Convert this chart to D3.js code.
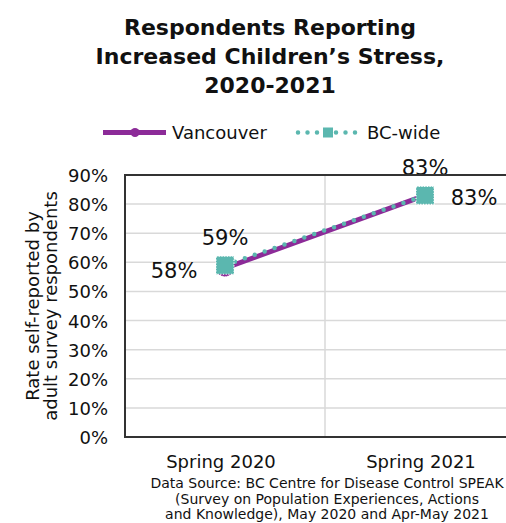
<!DOCTYPE html>
<html>
<head>
<meta charset="utf-8">
<script src="https://cdn.jsdelivr.net/npm/d3@7"></script>
<style>
  body { margin: 0; background: #fff; }
  svg { display: block; font-family: "DejaVu Sans", sans-serif; }
</style>
</head>
<body>
<svg id="chart" width="506" height="523"></svg>
<script>
// Chart data
const categories = ["Spring 2020", "Spring 2021"];
const vancouver = [58, 83];
const bcWide = [59, 83];
const yTicks = [0, 10, 20, 30, 40, 50, 60, 70, 80, 90];
const titleLines = ["Respondents Reporting", "Increased Children\u2019s Stress,", "2020-2021"];
const yTitleLines = ["Rate self-reported by", "adult survey respondents"];
const sourceLines = [
  "Data Source: BC Centre for Disease Control SPEAK",
  "(Survey on Population Experiences, Actions",
  "and Knowledge), May 2020 and Apr-May 2021"
];

const COLORS = {
  vancouver: "#8c2b98",
  bc: "#5bb7af",
  grid: "#d9d9d9",
  axis: "#333",
  text: "#111",
};

const svg = d3.select("#chart");

const plot = { left: 125, right: 525, top: 175, bottom: 437 };

const x = d3.scaleBand()
  .domain(categories)
  .range([plot.left, plot.right]);

const y = d3.scaleLinear()
  .domain([0, 90])
  .range([plot.bottom, plot.top]);

const cx = d => x(d) + x.bandwidth() / 2;

// Title
svg.append("text")
  .attr("text-anchor", "middle")
  .attr("font-weight", "bold")
  .attr("font-size", 22)
  .attr("fill", COLORS.text)
  .selectAll("tspan")
  .data(titleLines)
  .enter()
  .append("tspan")
  .attr("x", 270)
  .attr("y", (d, i) => 35 + i * 29)
  .text(d => d);

// Legend
const legend = svg.append("g").attr("font-size", 18).attr("fill", COLORS.text);
legend.append("line")
  .attr("x1", 103).attr("x2", 166).attr("y1", 132.5).attr("y2", 132.5)
  .attr("stroke", COLORS.vancouver).attr("stroke-width", 5);
legend.append("circle")
  .attr("cx", 135).attr("cy", 132.5).attr("r", 4.5)
  .attr("fill", COLORS.vancouver);
legend.append("text").attr("x", 172).attr("y", 139).text("Vancouver");

legend.append("line")
  .attr("x1", 298).attr("x2", 356).attr("y1", 132.5).attr("y2", 132.5)
  .attr("stroke", COLORS.bc).attr("stroke-width", 4.5)
  .attr("stroke-linecap", "round")
  .attr("stroke-dasharray", "0 9.5");
legend.append("rect")
  .attr("x", 323).attr("y", 127.5).attr("width", 10).attr("height", 10)
  .attr("fill", COLORS.bc);
legend.append("text").attr("x", 367).attr("y", 139).text("BC-wide");

// Gridlines
svg.append("g")
  .selectAll("line")
  .data(yTicks.filter(d => d > 0 && d < 90))
  .enter()
  .append("line")
  .attr("x1", plot.left).attr("x2", plot.right)
  .attr("y1", d => y(d)).attr("y2", d => y(d))
  .attr("stroke", COLORS.grid).attr("stroke-width", 1.5);

svg.append("line")
  .attr("x1", x(categories[1])).attr("x2", x(categories[1]))
  .attr("y1", plot.top).attr("y2", plot.bottom)
  .attr("stroke", COLORS.grid).attr("stroke-width", 1.5);

// Y axis
const yAxis = svg.append("g")
  .attr("transform", `translate(${plot.left - 17},0)`)
  .call(d3.axisLeft(y).tickValues(yTicks).tickSize(0).tickPadding(0).tickFormat(d => d + "%"));
yAxis.select(".domain").remove();
yAxis.selectAll("text")
  .attr("font-family", "DejaVu Sans, sans-serif")
  .attr("font-size", 18)
  .attr("fill", COLORS.text)
  .attr("dy", "0.36em");

// Y title
svg.append("text")
  .attr("transform", "translate(0,306) rotate(-90)")
  .attr("text-anchor", "middle")
  .attr("font-size", 18)
  .attr("fill", COLORS.text)
  .selectAll("tspan")
  .data(yTitleLines)
  .enter()
  .append("tspan")
  .attr("x", 0)
  .attr("y", (d, i) => 39 + i * 18)
  .text(d => d);

// X axis labels
svg.append("g")
  .attr("font-size", 18)
  .attr("fill", COLORS.text)
  .attr("text-anchor", "middle")
  .selectAll("text")
  .data(categories)
  .enter()
  .append("text")
  .attr("x", d => cx(d) - 4)
  .attr("y", 468)
  .text(d => d);

// Source
svg.append("text")
  .attr("text-anchor", "middle")
  .attr("font-size", 14)
  .attr("fill", COLORS.text)
  .selectAll("tspan")
  .data(sourceLines)
  .enter()
  .append("tspan")
  .attr("x", 327)
  .attr("y", (d, i) => 488 + i * 15.5)
  .text(d => d);

// Lines
const line = d3.line().x(d => cx(d[0])).y(d => y(d[1]));

svg.append("path")
  .datum(categories.map((c, i) => [c, vancouver[i]]))
  .attr("d", line)
  .attr("fill", "none")
  .attr("stroke", COLORS.vancouver)
  .attr("stroke-width", 5);

svg.append("path")
  .datum(categories.map((c, i) => [c, bcWide[i]]))
  .attr("d", line)
  .attr("fill", "none")
  .attr("stroke", COLORS.bc)
  .attr("stroke-width", 4.5)
  .attr("stroke-linecap", "round")
  .attr("stroke-dasharray", "0 10.5");

// Markers
svg.append("g")
  .selectAll("circle")
  .data(categories.map((c, i) => [c, vancouver[i]]))
  .enter()
  .append("circle")
  .attr("cx", d => cx(d[0]))
  .attr("cy", d => y(d[1]))
  .attr("r", 8.5)
  .attr("fill", COLORS.vancouver)
  .attr("stroke", "#fff")
  .attr("stroke-width", 1)
  .attr("stroke-dasharray", "1 1.5");

svg.append("g")
  .selectAll("rect")
  .data(categories.map((c, i) => [c, bcWide[i]]))
  .enter()
  .append("rect")
  .attr("x", d => cx(d[0]) - 9)
  .attr("y", d => y(d[1]) - 9)
  .attr("width", 18)
  .attr("height", 18)
  .attr("fill", COLORS.bc)
  .attr("stroke", "#fff")
  .attr("stroke-width", 1.2)
  .attr("stroke-dasharray", "1.2 1.5");

// Data labels: Vancouver to the side, BC-wide above
const labels = svg.append("g")
  .attr("font-size", 21)
  .attr("fill", COLORS.text)
  .attr("text-anchor", "middle");

labels.selectAll(".van")
  .data(categories.map((c, i) => [c, vancouver[i]]))
  .enter()
  .append("text")
  .attr("x", (d, i) => cx(d[0]) + (i === 0 ? -51 : 49))
  .attr("y", d => y(d[1]) + 9.5)
  .text(d => d[1] + "%");

labels.selectAll(".bc")
  .data(categories.map((c, i) => [c, bcWide[i]]))
  .enter()
  .append("text")
  .attr("x", d => cx(d[0]))
  .attr("y", d => y(d[1]) - 20)
  .text(d => d[1] + "%");

// Plot border (drawn over the top label like the reference)
svg.append("path")
  .attr("d", `M${plot.right},${plot.top}H${plot.left}V${plot.bottom}H${plot.right}`)
  .attr("fill", "none")
  .attr("stroke", COLORS.axis)
  .attr("stroke-width", 2);
</script>
</body>
</html>
